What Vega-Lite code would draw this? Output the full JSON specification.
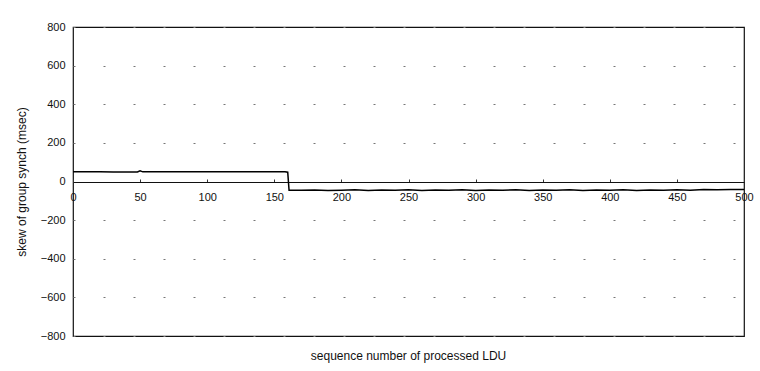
{
  "$schema": "https://vega.github.io/schema/vega-lite/v6.json",
  "width": 671,
  "height": 309,
  "autosize": {"type": "none"},
  "padding": {"left": 73, "top": 27, "right": 16, "bottom": 35},
  "background": "white",
  "config": {
    "view": {"stroke": "#111", "strokeWidth": 1.2},
    "font": "Liberation Sans"
  },
  "data": {
    "values": [
      {"seq": 0, "skew": 50}, {"seq": 10, "skew": 50}, {"seq": 20, "skew": 50}, {"seq": 30, "skew": 49},
      {"seq": 40, "skew": 49}, {"seq": 48, "skew": 49}, {"seq": 50, "skew": 55}, {"seq": 52, "skew": 50},
      {"seq": 60, "skew": 50}, {"seq": 70, "skew": 50}, {"seq": 80, "skew": 50}, {"seq": 90, "skew": 50},
      {"seq": 100, "skew": 50}, {"seq": 110, "skew": 50}, {"seq": 120, "skew": 50}, {"seq": 130, "skew": 50},
      {"seq": 140, "skew": 50}, {"seq": 150, "skew": 50}, {"seq": 158, "skew": 51}, {"seq": 160, "skew": 48},
      {"seq": 161, "skew": -45}, {"seq": 170, "skew": -45}, {"seq": 180, "skew": -44}, {"seq": 190, "skew": -46},
      {"seq": 200, "skew": -45}, {"seq": 210, "skew": -43}, {"seq": 220, "skew": -46}, {"seq": 230, "skew": -44},
      {"seq": 240, "skew": -45}, {"seq": 250, "skew": -43}, {"seq": 260, "skew": -46}, {"seq": 270, "skew": -44},
      {"seq": 280, "skew": -45}, {"seq": 290, "skew": -43}, {"seq": 300, "skew": -46}, {"seq": 310, "skew": -44},
      {"seq": 320, "skew": -45}, {"seq": 330, "skew": -43}, {"seq": 340, "skew": -46}, {"seq": 350, "skew": -44},
      {"seq": 360, "skew": -45}, {"seq": 370, "skew": -43}, {"seq": 380, "skew": -46}, {"seq": 390, "skew": -44},
      {"seq": 400, "skew": -45}, {"seq": 410, "skew": -43}, {"seq": 420, "skew": -46}, {"seq": 430, "skew": -44},
      {"seq": 440, "skew": -45}, {"seq": 450, "skew": -43}, {"seq": 460, "skew": -45}, {"seq": 470, "skew": -42},
      {"seq": 480, "skew": -43}, {"seq": 490, "skew": -42}, {"seq": 500, "skew": -42}
    ]
  },
  "mark": {"type": "line", "color": "#000", "strokeWidth": 1.5, "interpolate": "linear"},
  "encoding": {
    "x": {
      "field": "seq", "type": "quantitative",
      "scale": {"domain": [0, 500], "nice": false, "zero": false},
      "axis": {
        "values": [0, 50, 100, 150, 200, 250, 300, 350, 400, 450, 500],
        "offset": -154,
        "grid": false,
        "domainColor": "#111", "domainWidth": 1.2,
        "ticks": true, "tickSize": -3, "tickColor": "#333",
        "labelFontSize": 11, "labelColor": "#111", "labelPadding": 12,
        "labelFlush": false,
        "title": "sequence number of processed LDU",
        "titleFontSize": 12, "titleFontWeight": "normal", "titleColor": "#111",
        "titleY": 168, "titleX": 335
      }
    },
    "y": {
      "field": "skew", "type": "quantitative",
      "scale": {"domain": [-800, 800], "nice": false},
      "axis": {
        "values": [-800, -600, -400, -200, 0, 200, 400, 600, 800],
        "grid": true, "gridColor": "#777", "gridDash": [2, 28], "gridWidth": 1,
        "domain": false, "ticks": false,
        "labelFontSize": 11, "labelColor": "#111", "labelPadding": 8,
        "title": "skew of group synch (msec)",
        "titleFontSize": 12, "titleFontWeight": "normal", "titleColor": "#111",
        "titlePadding": 12
      }
    }
  }
}
